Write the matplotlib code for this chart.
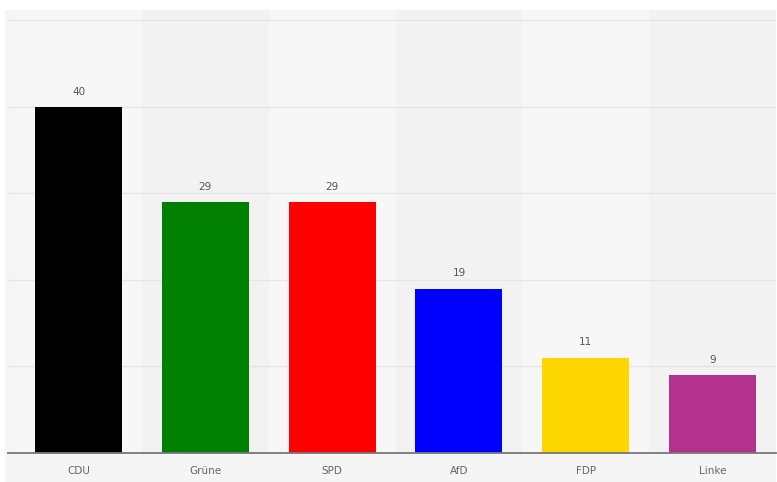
import numpy as np
from matplotlib import pyplot as plt
from matplotlib.patches import Rectangle

# Sitzverteilung / Umfrage
parteien = ['CDU', 'Grüne', 'SPD', 'AfD', 'FDP', 'Linke']
werte = [40, 29, 29, 19, 11, 9]
farben = ['#000000', '#007f00', '#ff0000', '#0000ff', '#ffd700', '#b3338c']

fig = plt.figure(figsize=(7.77, 4.82), dpi=100, facecolor='white')

# grauer Hintergrund hinter dem Diagramm
fig.patches.append(Rectangle((5 / 777, 0), 770 / 777, 472 / 482,
                             transform=fig.transFigure, color='#f5f5f5', zorder=-10))

ax = fig.add_axes([8 / 777, 29 / 482, 768 / 777, 443 / 482])
ax.set_facecolor('none')

x = np.arange(len(parteien))

# abwechselnde Spalten
for i in x:
    c = '#f7f7f7' if i % 2 == 0 else '#f2f2f2'
    ax.axvspan(i - 0.5, i + 0.5, color=c, zorder=0, lw=0)

for y in [10, 20, 30, 40, 50]:
    ax.axhline(y, color='#e6e6e6', linewidth=1, zorder=1)

barras = ax.bar(x, werte, width=0.686, color=farben, zorder=2)
for b, v in zip(barras, werte):
    ax.text(b.get_x() + b.get_width() / 2, v + 1.2, str(v), ha='center', va='bottom',
            fontsize=7.5, color='#555555')

ax.set_xlim(-0.556, 5.50)
ax.set_ylim(0, 51.2)
ax.set_xticks(x)
ax.set_xticklabels(parteien, fontsize=7.5, color='#666666')
ax.tick_params(axis='x', length=0, pad=9)
ax.set_yticks([])
for s in ['top', 'right', 'left']:
    ax.spines[s].set_visible(False)
ax.spines['bottom'].set_color('#777777')
ax.spines['bottom'].set_linewidth(1.3)
ax.spines['bottom'].set_zorder(3)

plt.savefig('out.png', dpi=100, facecolor='white')
